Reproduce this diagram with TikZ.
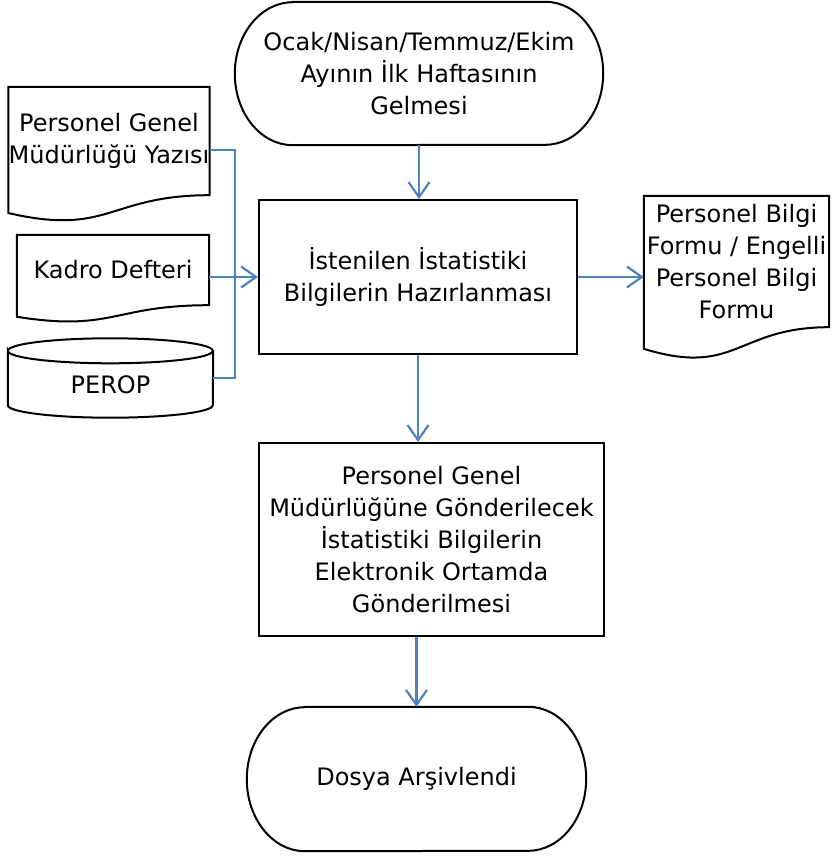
\documentclass[tikz,border=0pt]{standalone}
\usepackage{fontspec}
\setmainfont{DejaVu Sans}
\usetikzlibrary{calc,arrows.meta}
\definecolor{linkblue}{RGB}{79,129,189}
\tikzset{
  outline/.style={line width=2pt},
  box/.style={draw, outline},
  plain/.style={align=center, inner sep=0pt},
  link/.style={draw=linkblue, line width=2.2pt},
  arr/.style={link, -{Straight Barb[length=15pt,width=21pt,line width=2.2pt]}},
}
% document sheet with wavy bottom
\newcommand\docshape[1]{%
  \draw[outline] (#1.north west) -- (#1.north east) -- (#1.south east)
    .. controls (#1.south) and ($(#1.north)!1.381!(#1.south)$)
    .. ($(#1.north west)!1.1646!(#1.south west)$) -- cycle;}
% terminator with elliptic ends (node, half height)
\newcommand\termshape[2]{%
  \draw[outline] ([xshift=58pt]#1.north west) -- ([xshift=-58pt]#1.north east)
    arc[start angle=90, end angle=-90, x radius=58pt, y radius=#2]
    -- ([xshift=58pt]#1.south west)
    arc[start angle=270, end angle=90, x radius=58pt, y radius=#2] -- cycle;}
\begin{document}
\begin{tikzpicture}[x=1pt, y=-1pt, font=\fontsize{24}{32}\selectfont]
  \useasboundingbox (0,0) rectangle (832,858);
  % flow nodes
  \node[plain, minimum width=368pt, minimum height=143pt] (start) at (419,73.5)
    {Ocak/Nisan/Temmuz/Ekim\\Ayının İlk Haftasının\\Gelmesi};
  \node[plain, box, minimum width=318pt, minimum height=154pt] (prep) at (418,277)
    {İstenilen İstatistiki\\Bilgilerin Hazırlanması};
  \node[plain, box, minimum width=345pt, minimum height=193pt] (send) at (431.5,539.5)
    {Personel Genel\\Müdürlüğüne Gönderilecek\\İstatistiki Bilgilerin\\Elektronik Ortamda\\Gönderilmesi};
  \node[plain, minimum width=339pt, minimum height=144pt] (end) at (416.5,779)
    {Dosya Arşivlendi};
  \termshape{start}{71.5pt}
  \termshape{end}{72pt}
  % inputs and outputs
  \node[plain, minimum width=200pt, minimum height=108pt] (yazi) at (109,141)
    {Personel Genel\\Müdürlüğü Yazısı};
  \node[plain, minimum width=192pt, minimum height=70pt] (kadro) at (113,270)
    {Kadro Defteri};
  \node[plain, minimum width=205pt, minimum height=54pt] (perop) at (110.5,378)
    {\raisebox{-7pt}[\height][\depth]{PEROP}};
  \node[plain, minimum width=185pt, minimum height=131pt] (form) at (736.5,261.5)
    {Personel Bilgi\\Formu / Engelli\\Personel Bilgi\\Formu};
  \docshape{yazi}
  \docshape{kadro}
  \docshape{form}
  \draw[outline] (perop.north west) arc[start angle=180, end angle=-180, x radius=102.5pt, y radius=12.5pt]
    -- (perop.south west) arc[start angle=180, end angle=360, x radius=102.5pt, y radius=12.5pt]
    -- (perop.north east);
  % connectors
  \coordinate (bus) at (235,0);
  \draw[arr] (start.south) -- (start.south |- prep.north);
  \draw[arr] (prep.south) -- (prep.south |- send.north);
  \draw[arr] (end.north |- send.south) -- (end.north);
  \draw[arr] (prep.east) -- (form.west |- prep.east);
  \draw[link] ([yshift=-9pt]yazi.east) -| (bus |- perop.east) -- (perop.east);
  \draw[arr] (kadro.east |- prep.west) -- (prep.west);
\end{tikzpicture}
\end{document}
